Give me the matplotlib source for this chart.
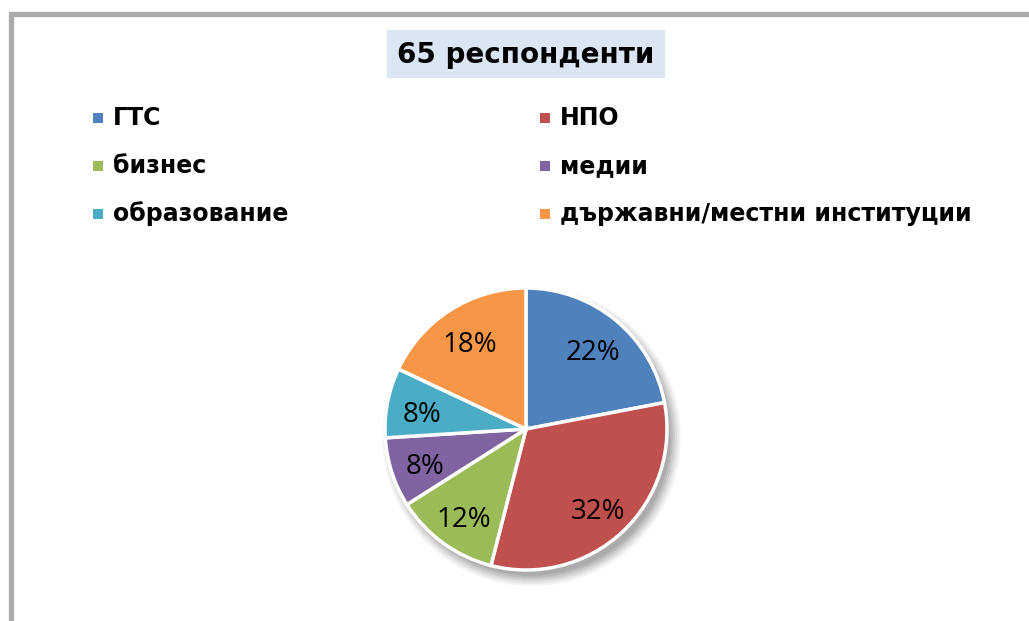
import matplotlib
matplotlib.use('Agg')
import matplotlib.pyplot as plt
from matplotlib.patches import Rectangle, Circle
from matplotlib.lines import Line2D

# data
title = '65 респонденти'
categories = ['ГТС', 'НПО', 'бизнес', 'медии', 'образование', 'държавни/местни институции']
shares = [22, 32, 12, 8, 8, 18]
colors = ['#4F81BD', '#C0504D', '#9BBB59', '#8064A2', '#4BACC6', '#F79646']

W, H = 1029, 621
fig = plt.figure(figsize=(W / 100, H / 100), dpi=100)
fig.patch.set_facecolor('white')

def fx(px):
    return px / W

def fy(py):
    return 1 - py / H

# frame (left and top edge only visible)
fig.add_artist(Line2D([fx(10.5), fx(10.5), fx(W)], [0, fy(14), fy(14)],
                      transform=fig.transFigure, color='#ABABAB', lw=3.8,
                      solid_joinstyle='miter'))

# title with shaded box
fig.patches.append(Rectangle((fx(387), fy(78)), fx(278), 48 / H,
                             transform=fig.transFigure, facecolor='#DCE6F2',
                             edgecolor='none'))
fig.text(fx(526), fy(55), title, ha='center', va='center', fontsize=20,
         fontweight='bold', family='DejaVu Sans')

# legend, two columns
col_x = [98, 545]
row_y = [118, 166, 214]
for i, (name, c) in enumerate(zip(categories, colors)):
    x = col_x[i % 2]
    y = row_y[i // 2]
    fig.patches.append(Rectangle((fx(x - 5), fy(y + 5)), fx(10), 10 / H,
                                 transform=fig.transFigure, facecolor=c,
                                 edgecolor='none'))
    fig.text(fx(x + 15), fy(y), name, ha='left', va='center', fontsize=17,
             fontweight='bold', family='DejaVu Sans')

# pie
cx, cy, r = 526, 429, 141
ax = fig.add_axes([fx(cx - r), fy(cy + r), 2 * r / W, 2 * r / H])

# soft shadow
for k, a in enumerate([0.04, 0.05, 0.06, 0.07, 0.08, 0.08]):
    ax.add_patch(Circle((0.04, -0.055), 1.06 - k * 0.015, facecolor='black',
                        edgecolor='none', alpha=a, zorder=0, clip_on=False))

wedges, texts, autotexts = ax.pie(shares, colors=colors, startangle=90,
                                  counterclock=False, autopct='%d%%',
                                  pctdistance=0.75, radius=1,
                                  wedgeprops=dict(edgecolor='white', linewidth=2.5),
                                  textprops=dict(fontsize=20, family='Open Sans',
                                                 color='black'))
for w in wedges:
    w.set_zorder(2)
for t in autotexts:
    t.set_zorder(3)
    px, py = t.get_position()
    t.set_position((px, py - 0.04))
ax.set_xlim(-1, 1)
ax.set_ylim(-1, 1)
ax.set_aspect('equal')
ax.axis('off')

fig.savefig('out.png', dpi=100)
